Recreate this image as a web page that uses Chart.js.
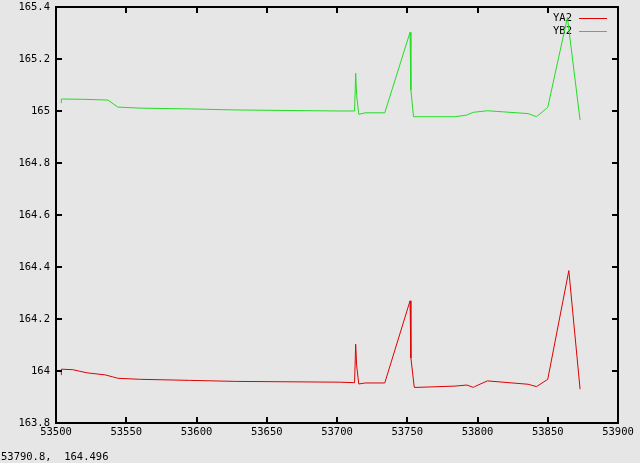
<!DOCTYPE html>
<html>
<head>
<meta charset="utf-8">
<script src="https://cdn.jsdelivr.net/npm/chart.js@4/dist/chart.umd.min.js"></script>
<style>
  html, body { margin: 0; padding: 0; background: #e6e6e6; }
  #wrap { position: relative; width: 640px; height: 463px; }
  #status { position: absolute; left: 1px; top: 450px; font: 10.5px "DejaVu Sans Mono", monospace; color: #000; white-space: pre; }
</style>
</head>
<body>
<div id="wrap">
  <canvas id="c" width="640" height="463"></canvas>
  <div id="status">53790.8,  164.496</div>
</div>
<script>
// ---- data ----
const seriesNames = ['YA2', 'YB2'];

const xA2 = [53503.6, 53503.8, 53512, 53522, 53535, 53540, 53544, 53560, 53595, 53628, 53702, 53712.5, 53713.3, 53714, 53715.5, 53720, 53734, 53752, 53752.6, 53755, 53757, 53784, 53792.5, 53797, 53798, 53807, 53836, 53842, 53850, 53865, 53873];
const yA2 = [163.985, 164.007, 164.005, 163.993, 163.985, 163.978, 163.972, 163.968, 163.964, 163.960, 163.957, 163.955, 164.103, 164.020, 163.950, 163.954, 163.954, 164.270, 164.050, 163.937, 163.937, 163.942, 163.946, 163.937, 163.940, 163.962, 163.949, 163.940, 163.968, 164.386, 163.930];

const xB2 = [53503.6, 53503.8, 53520, 53537, 53544, 53560, 53595, 53628, 53702, 53712.5, 53713.3, 53714, 53715.5, 53720, 53734, 53752, 53752.6, 53754.5, 53784, 53792, 53797, 53807, 53836, 53842, 53850, 53864, 53873];
const yB2 = [165.031, 165.046, 165.045, 165.042, 165.015, 165.011, 165.008, 165.004, 165.000, 165.000, 165.145, 165.060, 164.987, 164.993, 164.993, 165.303, 165.080, 164.978, 164.978, 164.984, 164.995, 165.001, 164.990, 164.978, 165.014, 165.360, 164.965];

const xTickValues = [53500, 53550, 53600, 53650, 53700, 53750, 53800, 53850, 53900];
const xTickLabels = ['53500', '53550', '53600', '53650', '53700', '53750', '53800', '53850', '53900'];
const yTickValues = [163.8, 164.0, 164.2, 164.4, 164.6, 164.8, 165.0, 165.2, 165.4];
const yTickLabels = ['163.8', '164', '164.2', '164.4', '164.6', '164.8', '165', '165.2', '165.4'];

const seriesColors = ['#dd0000', '#22dd22'];

// ---- build ----
const toPoints = (xs, ys) => xs.map((x, i) => ({ x: x, y: ys[i] }));
const FONT = { family: '"DejaVu Sans Mono", monospace', size: 10.5 };

const gnuFrame = {
  id: 'gnuFrame',
  beforeDatasetsDraw(chart) {
    const ctx = chart.ctx, a = chart.chartArea;
    ctx.save();
    ctx.font = '10.5px "DejaVu Sans Mono", monospace';
    ctx.textAlign = 'right';
    ctx.textBaseline = 'middle';
    chart.data.datasets.forEach((ds, i) => {
      const y = a.top + 11 + i * 13;
      ctx.fillStyle = '#000';
      ctx.fillText(ds.label, a.right - 46, y);
      ctx.strokeStyle = ds.borderColor;
      ctx.lineWidth = 1;
      ctx.beginPath();
      ctx.moveTo(a.right - 39, y + 0.5);
      ctx.lineTo(a.right - 11, y + 0.5);
      ctx.stroke();
    });
    ctx.restore();
  },
  afterDatasetsDraw(chart) {
    const ctx = chart.ctx, a = chart.chartArea;
    const xs = chart.scales.x, ys = chart.scales.y;
    ctx.save();
    ctx.strokeStyle = '#000';
    ctx.lineWidth = 2;
    ctx.strokeRect(a.left, a.top, a.right - a.left, a.bottom - a.top);
    const L = 6;
    ctx.beginPath();
    xs.ticks.forEach(t => {
      const px = Math.round(xs.getPixelForValue(t.value));
      ctx.moveTo(px, a.bottom); ctx.lineTo(px, a.bottom - L);
      ctx.moveTo(px, a.top); ctx.lineTo(px, a.top + L);
    });
    ys.ticks.forEach(t => {
      const py = Math.round(ys.getPixelForValue(t.value));
      ctx.moveTo(a.left, py); ctx.lineTo(a.left + L, py);
      ctx.moveTo(a.right, py); ctx.lineTo(a.right - L, py);
    });
    ctx.stroke();
    ctx.restore();
  }
};

new Chart(document.getElementById('c'), {
  type: 'scatter',
  data: {
    datasets: [
      { label: seriesNames[0], data: toPoints(xA2, yA2), showLine: true, borderColor: seriesColors[0], backgroundColor: seriesColors[0], borderWidth: 1, pointRadius: 0, tension: 0 },
      { label: seriesNames[1], data: toPoints(xB2, yB2), showLine: true, borderColor: seriesColors[1], backgroundColor: seriesColors[1], borderWidth: 1, pointRadius: 0, tension: 0 }
    ]
  },
  options: {
    responsive: false,
    animation: false,
    events: [],
    layout: { padding: { top: 7, right: 22, left: 0, bottom: 0 } },
    plugins: { legend: { display: false }, tooltip: { enabled: false }, title: { display: false } },
    scales: {
      x: {
        type: 'linear', min: 53500, max: 53900,
        afterBuildTicks: s => { s.ticks = xTickValues.map(v => ({ value: v })); },
        afterFit: s => { s.height = 40; s.paddingLeft = 0; s.paddingRight = 0; },
        grid: { display: false, drawTicks: false },
        border: { display: false },
        ticks: { color: '#000', font: FONT, padding: 3, maxRotation: 0, autoSkip: false,
          callback: (v) => { const i = xTickValues.indexOf(v); return i >= 0 ? xTickLabels[i] : ''; } }
      },
      y: {
        type: 'linear', min: 163.8, max: 165.4,
        afterBuildTicks: s => { s.ticks = yTickValues.map(v => ({ value: v })); },
        afterFit: s => { s.width = 56; s.paddingTop = 0; s.paddingBottom = 0; },
        grid: { display: false, drawTicks: false },
        border: { display: false },
        ticks: { color: '#000', font: FONT, padding: 6, autoSkip: false,
          callback: (v) => { const i = yTickValues.findIndex(t => Math.abs(t - v) < 1e-6); return i >= 0 ? yTickLabels[i] : ''; } }
      }
    }
  },
  plugins: [gnuFrame]
});
</script>
</body>
</html>
